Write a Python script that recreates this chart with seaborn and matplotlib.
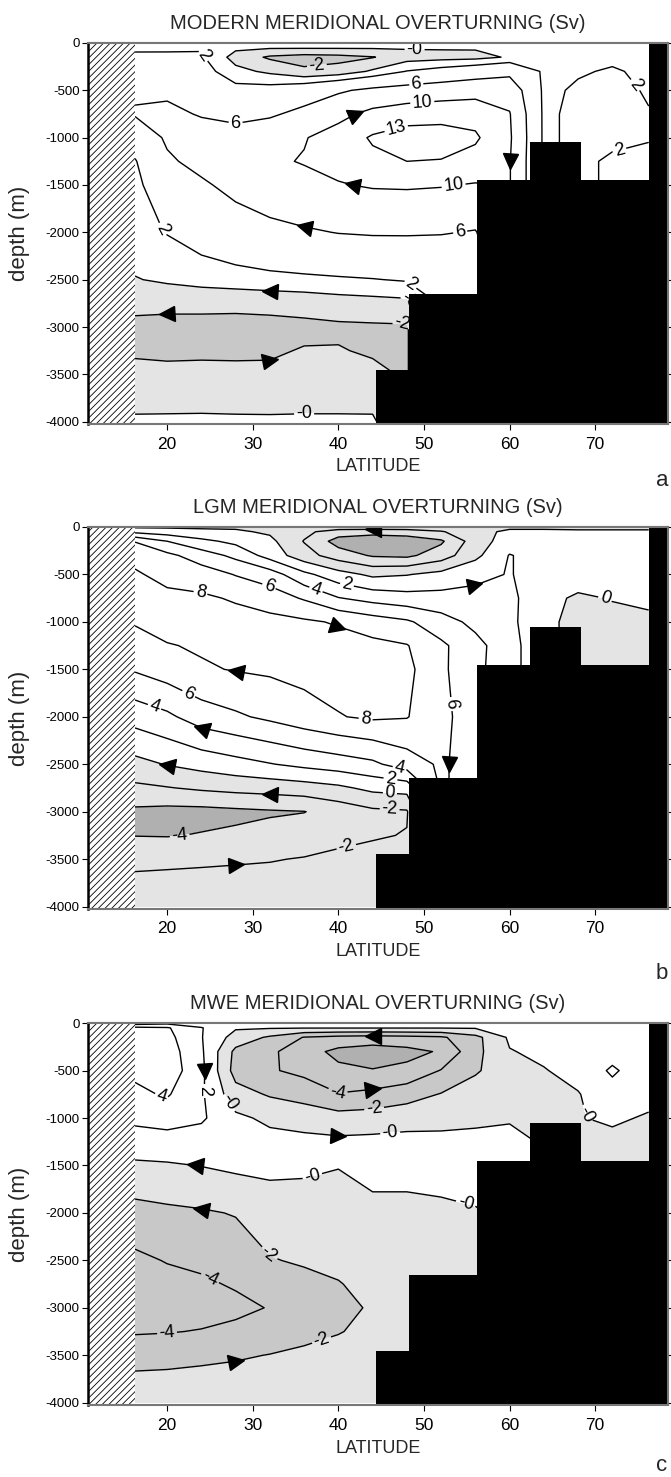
import numpy as np
import pandas as pd
import matplotlib
matplotlib.use('Agg')
import matplotlib.pyplot as plt
import seaborn as sns
from matplotlib.markers import MarkerStyle
from matplotlib.transforms import Affine2D

nan = np.nan

# grid of the streamfunction (latitude in deg N, depth in m)
lats = [16.25, 20, 24, 28, 32, 36, 40, 44, 48, 52, 56, 60, 64, 68, 72, 76.25]
depths = [0, 50, 150, 300, 500, 750, 1000, 1250, 1500, 2000, 2500, 2750, 3000, 3250, 3500, 4000]

# overturning streamfunction (Sv), nan = under topography
psi_modern = [
    [0.5, 0.8, 1.2, 0.8, 0.5, 0.5, 0.5, 0.5, 0.5, 0.5, 0.5, 0.6, 0.8, 1.0, 1.0, 1.0],
    [1.5, 1.6, 1.8, 0.4, 0.2, 0.2, 0.2, 0.2, 0.2, 0.2, 0.2, 0.6, 1.2, 1.4, 1.5, 1.5],
    [2.6, 2.5, 2.3, -0.8, -2.3, -2.8, -2.6, -2.1, -0.9, -0.7, -0.6, 0.2, 1.4, 1.6, 1.6, 1.6],
    [4.5, 4.2, 3.0, 0.6, -0.4, -1.6, -1.2, 0.3, 2.1, 3.0, 4.0, 5.0, 1.6, 1.8, 2.2, 1.6],
    [5.5, 5.5, 4.5, 2.8, 3.0, 4.0, 5.5, 6.8, 7.5, 8.2, 8.8, 8.5, 1.5, 2.3, 2.6, 1.8],
    [6.3, 6.6, 5.8, 5.0, 5.5, 7.0, 9.0, 11.0, 12.0, 12.2, 12.0, 10.2, 1.5, 2.6, 2.8, 2.1],
    [3.5, 6.5, 7.2, 7.5, 8.5, 9.8, 11.5, 13.3, 14.0, 14.0, 13.4, 10.5, 1.5, 2.6, 2.6, 2.1],
    [1.8, 5.5, 7.0, 8.5, 9.5, 10.2, 11.0, 12.4, 13.0, 12.9, 12.0, 10.2, nan, nan, 1.6, 1.6],
    [1.5, 3.5, 5.5, 7.0, 8.2, 9.0, 9.8, 10.3, 10.4, 10.2, 9.8, nan, nan, nan, nan, nan],
    [1.2, 2.1, 3.2, 4.2, 5.0, 5.6, 6.1, 6.3, 6.3, 6.2, 5.8, nan, nan, nan, nan, nan],
    [-0.1, 0.3, 0.7, 1.0, 1.3, 1.5, 1.7, 1.9, 2.2, 2.3, 2.3, nan, nan, nan, nan, nan],
    [-1.45, -1.5, -1.5, -1.55, -1.5, -1.35, -1.0, -0.8, -0.6, nan, nan, nan, nan, nan, nan, nan],
    [-2.5, -2.6, -2.6, -2.6, -2.5, -2.4, -2.3, -2.25, -2.2, nan, nan, nan, nan, nan, nan, nan],
    [-2.2, -2.4, -2.4, -2.3, -2.2, -1.9, -1.9, -2.2, -2.2, nan, nan, nan, nan, nan, nan, nan],
    [-1.6, -1.5, -1.4, -1.6, -1.7, -1.5, -1.5, -1.6, nan, nan, nan, nan, nan, nan, nan, nan],
    [0.3, 0.3, 0.3, 0.3, 0.3, 0.3, 0.3, 0.3, nan, nan, nan, nan, nan, nan, nan, nan],
]

psi_lgm = [
    [-0.3, -0.3, -0.3, -0.3, -0.4, -0.6, -0.8, -0.8, -0.8, -0.6, -0.4, -0.3, -0.3, -0.3, -0.3, -0.3],
    [1.5, 1.0, 0.5, 0.3, -0.3, -1.5, -3.0, -3.2, -3.0, -2.2, -0.5, 0.3, 0.3, 0.2, 0.2, 0.2],
    [5.9, 4.0, 2.5, 1.5, 0.5, -2.1, -4.8, -5.5, -5.2, -4.3, -1.0, 1.0, 1.0, 0.8, 0.8, 0.8],
    [7.5, 6.5, 5.0, 3.5, 1.2, -1.2, -3.0, -4.2, -4.4, -3.0, -0.5, 2.1, 1.2, 1.0, 1.0, 1.0],
    [8.2, 7.5, 7.0, 5.9, 5.0, 2.5, 0.8, -0.4, -0.1, 0.6, 1.5, 2.1, 1.2, 1.0, 0.9, 0.9],
    [8.5, 8.4, 8.3, 7.8, 7.0, 5.8, 4.1, 3.3, 2.8, 2.7, 2.6, 2.5, 0.6, -0.3, 0.1, 0.3],
    [8.1, 8.7, 8.8, 8.7, 8.6, 8.3, 7.8, 7.0, 6.3, 4.8, 3.5, 2.5, 0.4, -0.5, -0.6, -0.3],
    [7.5, 7.9, 8.2, 8.7, 8.9, 8.9, 8.8, 8.5, 8.1, 6.4, 4.6, 2.8, nan, nan, -0.6, -0.5],
    [6.2, 7.0, 7.8, 8.1, 8.3, 8.6, 8.8, 8.8, 8.5, 6.4, 4.5, nan, nan, nan, nan, nan],
    [2.8, 3.6, 5.0, 5.7, 6.4, 7.2, 7.9, 8.3, 8.1, 6.5, 5.0, nan, nan, nan, nan, nan],
    [-0.6, 0.1, 0.7, 1.3, 1.9, 2.5, 3.0, 3.6, 5.0, 6.3, 5.0, nan, nan, nan, nan, nan],
    [-2.4, -2.1, -1.7, -1.4, -1.2, -0.9, -0.4, 0.5, 0.8, nan, nan, nan, nan, nan, nan, nan],
    [-4.4, -4.6, -4.6, -4.4, -4.2, -4.05, -3.2, -2.4, -2.2, nan, nan, nan, nan, nan, nan, nan],
    [-4.05, -4.1, -3.9, -3.7, -3.4, -3.0, -2.5, -2.2, -1.9, nan, nan, nan, nan, nan, nan, nan],
    [-2.5, -2.4, -2.3, -2.2, -2.1, -1.9, -1.6, -1.3, nan, nan, nan, nan, nan, nan, nan, nan],
    [-0.6, -0.6, -0.6, -0.6, -0.6, -0.6, -0.6, -0.6, nan, nan, nan, nan, nan, nan, nan, nan],
]

psi_mwe = [
    [1.0, 1.5, 1.0, 0.3, 0.3, 0.3, 0.3, 0.3, 0.3, 0.3, 0.3, 0.4, 0.5, 0.5, 0.5, 0.5],
    [4.5, 4.2, 2.1, 0.2, 0.15, 0.1, 0.1, 0.1, 0.1, 0.1, 0.15, 0.3, 0.5, 0.6, 0.6, 0.6],
    [4.4, 4.6, 2.1, -0.8, -2.3, -4.1, -4.6, -4.8, -4.6, -4.3, -2.6, 0.3, 0.6, 0.7, 0.8, 0.7],
    [4.6, 5.0, 2.3, -2.5, -3.6, -5.2, -6.5, -7.0, -6.6, -5.8, -2.6, -0.1, 0.4, 0.8, 1.2, 0.6],
    [4.4, 5.2, 2.5, -2.8, -3.8, -4.5, -5.6, -5.9, -5.5, -3.9, -2.2, -1.0, -0.1, 0.6, 2.3, 0.7],
    [3.6, 4.2, 2.3, -1.2, -2.2, -2.8, -3.9, -3.5, -2.8, -1.9, -1.2, -0.6, -0.3, -0.1, 1.2, 0.6],
    [2.5, 2.8, 2.3, 0.4, -0.4, -0.8, -1.2, -1.1, -0.8, -0.6, -0.3, -0.1, -0.1, -0.1, 0.3, -0.2],
    [1.0, 1.2, 1.0, 0.8, 0.6, 0.5, 0.4, 0.5, 0.6, 0.5, 0.4, 0.3, nan, nan, -0.5, -0.5],
    [-0.3, -0.2, 0.05, 0.4, 0.5, 0.3, 0.05, 0.5, 0.5, 0.6, 0.6, nan, nan, nan, nan, nan],
    [-2.7, -2.4, -2.2, -1.9, -1.1, -0.8, -0.6, -0.4, -0.4, -0.3, -0.1, nan, nan, nan, nan, nan],
    [-4.4, -3.9, -3.6, -3.0, -2.1, -1.8, -1.5, -1.0, -0.6, -0.5, -0.4, nan, nan, nan, nan, nan],
    [-5.0, -4.6, -4.3, -3.8, -3.0, -2.5, -2.1, -1.4, -0.7, nan, nan, nan, nan, nan, nan, nan],
    [-5.2, -5.0, -4.8, -4.5, -3.9, -3.2, -2.5, -1.8, -1.0, nan, nan, nan, nan, nan, nan, nan],
    [-4.2, -4.1, -3.9, -3.5, -3.0, -2.6, -2.1, -1.5, -0.8, nan, nan, nan, nan, nan, nan, nan],
    [-2.7, -2.6, -2.4, -2.2, -1.95, -1.6, -1.3, -1.0, nan, nan, nan, nan, nan, nan, nan, nan],
    [-0.6, -0.6, -0.6, -0.6, -0.6, -0.6, -0.6, -0.6, nan, nan, nan, nan, nan, nan, nan, nan],
]

# bottom topography steps
topo_west = [44.4, 48.25, 56.25, 62.35, 68.35, 76.25]
topo_east = [48.25, 56.25, 62.35, 68.35, 76.25, 78.5]
topo_top = [3450, 2650, 1450, 1050, 1450, 0]
wall_east = 16.25

titles = ['MODERN MERIDIONAL OVERTURNING (Sv)',
          'LGM MERIDIONAL OVERTURNING (Sv)',
          'MWE MERIDIONAL OVERTURNING (Sv)']
panel_tags = ['a', 'b', 'c']

line_levels = [[-2, 0, 2, 6, 10, 13],
               [-4, -2, 0, 2, 4, 6, 8],
               [-6, -4, -2, 0, 2, 4]]
zero_text = ['-0', '0', '-0']

# contour labels: (level, lat, depth)
labels_modern = [(2, 24.4, 123), (2, 20.5, 1925), (2, 48.5, 2540), (2, 74, 493), (2, 73, 1190),
                 (0, 48.9, 105), (0, 48.5, 2700), (0, 36, 3910),
                 (-2, 37.5, 250), (-2, 47.5, 2930),
                 (6, 27.5, 1120), (6, 54.2, 1977), (6, 49.1, 438),
                 (10, 49.8, 625), (10, 53.4, 1470), (13, 46.8, 920)]
labels_lgm = [(2, 41, 610), (2, 46, 2710), (4, 37.5, 628), (4, 18.5, 1900), (4, 47.25, 2500),
              (6, 32, 593), (6, 22.5, 1760), (6, 53.3, 1865), (8, 24, 630), (8, 43, 2165),
              (0, 71, 790), (0, 46, 2830), (-2, 46, 2950), (-2, 41, 3400), (-4, 21.5, 3290)]
labels_mwe = [(-4, 40, 715), (-4, 25, 2690), (-4, 20, 3290),
              (-2, 44.25, 943), (-2, 31.75, 2445), (-2, 38, 3330),
              (0, 27, 855), (0, 46, 1100), (0, 69, 960), (0, 37, 1625), (0, 55, 1860),
              (2, 24, 715), (4, 19.25, 800)]

# flow arrows: (level, lat, depth, heading)
arrows_modern = [(10, 42.25, 617, 'e'), (10, 59.5, 1145, 'd'), (10, 41.75, 1533, 'w'),
                 (6, 36, 1885, 'w'), (0, 30.5, 2643, 'w'), (-2, 21, 2820, 'w'), (-2, 31, 3330, 'e')]
arrows_lgm = [(-2, 43, 60, 'w'), (2, 54.75, 610, 'e'), (8, 40.5, 1052, 'e'), (8, 29, 1528, 'w'),
              (4, 25.25, 2093, 'w'), (6, 52.9, 2393, 'd'), (0, 21, 2500, 'w'),
              (-2, 32, 2817, 'w'), (-2, 29.5, 3593, 'e')]
arrows_mwe = [(-4, 43, 166, 'w'), (2, 24.5, 572, 'd'), (-4, 44.5, 680, 'e'), (0, 41, 1155, 'e'),
              (0, 23.5, 1510, 'w'), (-2, 24, 1898, 'w'), (-2, 28.75, 3577, 'e')]

light, medium, dark = '#e4e4e4', '#c8c8c8', '#b0b0b0'
fill_levels = [[-50, -2, 0, 50], [-50, -4, 0, 50], [-50, -6, -2, 0, 50]]
fill_colors = [[medium, light, 'white'], [dark, light, 'white'], [dark, medium, light, 'white']]

fields = [psi_modern, psi_lgm, psi_mwe]
all_labels = [labels_modern, labels_lgm, labels_mwe]
all_arrows = [arrows_modern, arrows_lgm, arrows_mwe]

sns.set_theme(style='ticks')
plt.rcParams['font.family'] = ['Liberation Sans', 'DejaVu Sans']
plt.rcParams['axes.unicode_minus'] = False
plt.rcParams['hatch.linewidth'] = 0.6
plt.rcParams['contour.negative_linestyle'] = 'solid'

XMIN, XMAX = 10.75, 78.5
YMIN = -4025

fig = plt.figure(figsize=(6.71, 14.77), dpi=100)
positions = [[0.1311, 0.7129, 0.8644, 0.2580],
             [0.1311, 0.3846, 0.8644, 0.2586],
             [0.1311, 0.0487, 0.8644, 0.2586]]
tag_y = [0.675, 0.3412, 0.0075]


def add_arrows(ax, cs, arrows):
    segs = cs.get_paths()[0].to_polygons(closed_only=False)
    for lat, depth, heading in arrows:
        target = ax.transData.transform((lat, -depth))
        best = None
        for seg in segs:
            seg = np.asarray(seg)
            if len(seg) < 3:
                continue
            pts = ax.transData.transform(seg)
            dist = np.hypot(pts[:, 0] - target[0], pts[:, 1] - target[1])
            k = int(np.argmin(dist))
            if best is None or dist[k] < best[0]:
                best = (dist[k], seg, pts, k)
        if best is None:
            continue
        _, seg, pts, k = best
        p0 = pts[max(k - 1, 0)]
        p1 = pts[min(k + 1, len(pts) - 1)]
        dx, dy = p1 - p0
        if ((heading == 'e' and dx < 0) or (heading == 'w' and dx > 0)
                or (heading == 'd' and dy > 0) or (heading == 'u' and dy < 0)):
            dx, dy = -dx, -dy
        ang = np.degrees(np.arctan2(dy, dx))
        ax.plot(seg[k, 0], seg[k, 1], linestyle='none', color='black', ms=11,
                marker=MarkerStyle('>', transform=Affine2D().rotate_deg(ang)), zorder=5)


for i in range(3):
    ax = fig.add_axes(positions[i])
    z = pd.DataFrame(fields[i], index=depths, columns=lats).ffill().to_numpy()
    X, Y = np.meshgrid(lats, -np.array(depths, dtype=float))

    ax.contourf(X, Y, z, levels=fill_levels[i], colors=fill_colors[i], zorder=1)
    sets = {}
    for lev in line_levels[i]:
        sets[lev] = ax.contour(X, Y, z, levels=[lev], colors='black', linewidths=1.0,
                               linestyles='solid', zorder=2)
    ax.set_xlim(XMIN, XMAX)
    ax.set_ylim(YMIN, 0)

    # topography and western boundary
    heights = [-YMIN - t for t in topo_top]
    widths = np.subtract(topo_east, topo_west)
    ax.bar(topo_west, heights, width=widths, bottom=YMIN, align='edge',
           color='black', linewidth=0, zorder=4)
    ax.bar([XMIN], [-YMIN], width=[wall_east - XMIN], bottom=YMIN, align='edge',
           facecolor='white', edgecolor='black', hatch='/////', linewidth=0, zorder=4)
    ax.set_xlim(XMIN, XMAX)
    ax.set_ylim(YMIN, 0)

    for lev in line_levels[i]:
        arr = [(la, de, hd) for (lv, la, de, hd) in all_arrows[i] if lv == lev]
        if arr:
            add_arrows(ax, sets[lev], arr)

    for lev in line_levels[i]:
        pos = [(la, -de) for (lv, la, de) in all_labels[i] if lv == lev]
        if pos:
            txt = zero_text[i] if lev == 0 else str(lev)
            ax.clabel(sets[lev], manual=pos, inline=True, fmt={lev: txt},
                      fontsize=13, inline_spacing=2)

    ax.set_xticks([20, 30, 40, 50, 60, 70])
    ax.set_yticks(list(range(-4000, 1, 500)))
    ax.tick_params(axis='y', left=True, right=True, direction='out', length=4,
                   width=0.8, labelsize=9.5, pad=2, colors='black')
    ax.tick_params(axis='x', bottom=True, direction='out', length=4, width=0.8,
                   labelsize=12.5, pad=5, colors='black')
    top = ax.secondary_xaxis('top')
    top.set_xticks([20, 30, 40, 50, 60, 70])
    top.tick_params(axis='x', direction='in', length=4, width=0.8, labeltop=False, color='#555555')
    top.spines['top'].set_color('#777777')
    top.spines['top'].set_linewidth(1.5)

    for side in ['top', 'right', 'bottom']:
        ax.spines[side].set_color('#777777')
        ax.spines[side].set_linewidth(1.5)
        ax.spines[side].set_zorder(6)
    ax.spines['left'].set_color('black')
    ax.spines['left'].set_linewidth(1.8)
    ax.spines['left'].set_zorder(6)

    ax.set_title(titles[i], fontsize=14.5, pad=10)
    ax.set_xlabel('LATITUDE', fontsize=13, labelpad=5)
    ax.set_ylabel('depth (m)', fontsize=16)
    ax.yaxis.set_label_coords(-0.1, 0.5)
    fig.text(0.9866, tag_y[i], panel_tags[i], fontsize=16, ha='center', va='center')

fig.savefig('out.png', dpi=100)
